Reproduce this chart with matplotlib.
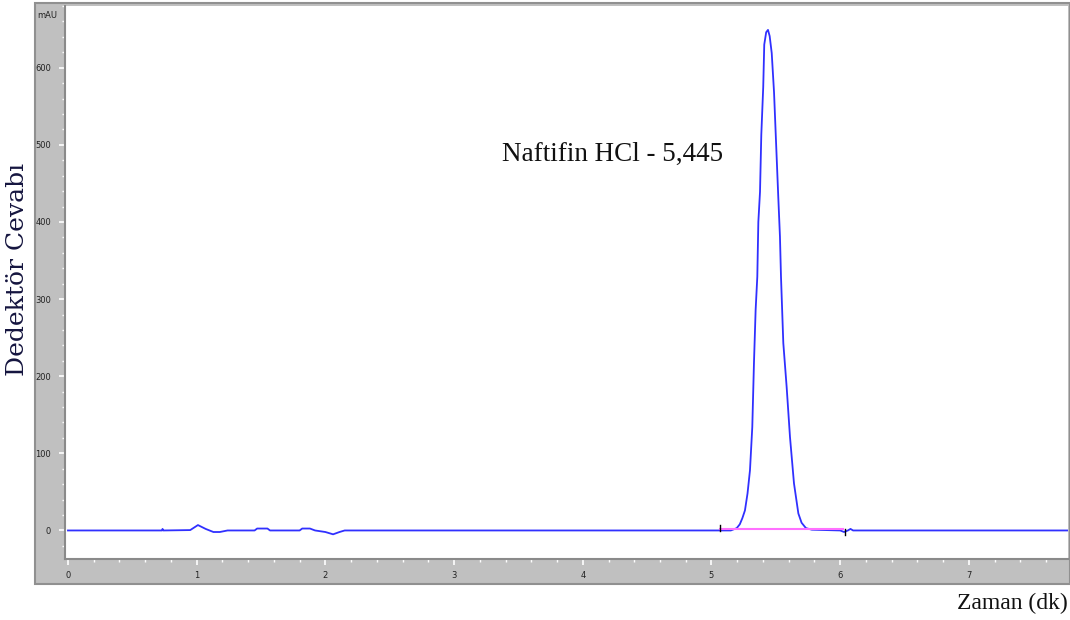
import matplotlib.pyplot as plt
from matplotlib.patches import Rectangle
from matplotlib.ticker import MultipleLocator

# Chromatogram trace (time in min, response in mAU)
time = [0.00, 0.73, 0.735, 0.74, 0.95, 1.01, 1.07, 1.13, 1.18, 1.24,
        1.45, 1.47, 1.55, 1.57, 1.80, 1.82, 1.88, 1.92, 2.00, 2.06,
        2.11, 2.15, 5.05, 5.15, 5.196, 5.22, 5.24, 5.26, 5.28, 5.299,
        5.317, 5.330, 5.343, 5.356, 5.364, 5.377, 5.387, 5.402, 5.410, 5.425,
        5.439, 5.452, 5.468, 5.486, 5.501, 5.519, 5.532, 5.540, 5.558, 5.584,
        5.610, 5.641, 5.675, 5.70, 5.734, 5.78, 6.00, 6.03, 6.06, 6.08,
        6.10, 7.80]
response = [0, 0, 2, 0, 0.5, 7, 2, -2, -2, 0,
            0, 2.5, 2.5, 0, 0, 2.5, 2.5, 0, -2, -5,
            -2, 0, 0, 0, 3, 8, 16, 26, 48, 78,
            134, 217, 286, 329, 400, 439, 513, 575, 630, 646,
            649, 641, 619, 568, 506, 432, 381, 329, 243, 186,
            121, 61, 22, 10, 3, 1, 0, -2, 0, 2,
            0, 0]

# integration baseline of the peak
base_t = [5.066, 6.02]
base_v = [2, 2]

peak_label = 'Naftifin HCl - 5,445'
x_ticks = [0, 1, 2, 3, 4, 5, 6, 7]
y_ticks = [0, 100, 200, 300, 400, 500, 600]

fig = plt.figure(figsize=(10.7, 6.2), dpi=100)

# grey instrument frame
fig.patches.append(Rectangle((35 / 1070, 1 - 584 / 620), 1035 / 1070, 581 / 620,
                             transform=fig.transFigure, facecolor='#c0c0c0',
                             edgecolor='#909090', lw=1.5, zorder=-5))

ax = fig.add_axes([65 / 1070, 1 - 559 / 620, 1003 / 1070, 553 / 620])
ax.set_zorder(2)
ax.set_facecolor('white')

ax.plot(time, response, color='#3030ff', lw=1.3)
ax.plot(base_t, base_v, color='#ff70ff', lw=1.5)
ax.plot([base_t[0], base_t[0]], [-1, 7], color='black', lw=1)
ax.plot([base_t[1] + 0.02, base_t[1] + 0.02], [-6, 2], color='black', lw=1)

ax.set_xlim(-0.023, 7.77)
ax.set_ylim(-37, 680)
ax.set_xticks(x_ticks)
ax.set_yticks(y_ticks)
ax.xaxis.set_minor_locator(MultipleLocator(0.2))
ax.yaxis.set_minor_locator(MultipleLocator(20))
ax.tick_params(which='both', direction='out', color='white', labelsize=6,
               labelcolor='#222222')
ax.tick_params(which='major', length=4, width=1.2)
ax.tick_params(which='minor', length=2.5, width=1)
ax.tick_params(axis='y', pad=6)
ax.tick_params(axis='x', pad=5)

for side in ['top', 'right']:
    ax.spines[side].set_visible(False)
for side in ['left', 'bottom']:
    ax.spines[side].set_color('#8a8a8a')
    ax.spines[side].set_linewidth(1.5)

ax.text(4.23, 488, peak_label, fontsize=19.5, family='Liberation Serif',
        ha='center', va='center', color='#111111')

fig.text(47 / 1070, 1 - 15 / 620, 'mAU', fontsize=6, ha='center', va='center',
         color='#222222')
fig.text(18 / 1070, 1 - 269 / 620, 'Dedektör Cevabı', rotation=90,
         fontsize=18, family='DejaVu Serif', ha='center', va='center',
         color='#15153f')
fig.text(1068 / 1070, 1 - 603 / 620, 'Zaman (dk)', fontsize=17,
         family='Liberation Serif', ha='right', va='center', color='#111111')

plt.savefig('out.png', dpi=100)
